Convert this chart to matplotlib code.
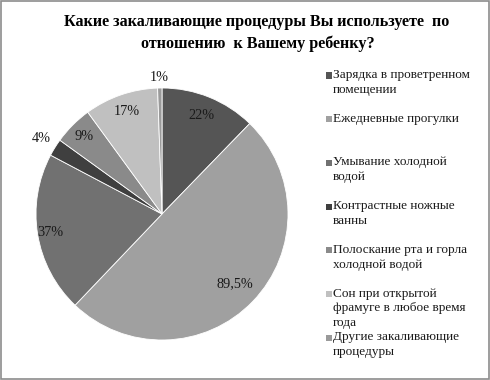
import matplotlib.pyplot as plt
from matplotlib.patches import Rectangle
import numpy as np

labels = ["Зарядка в проветренном\nпомещении",
          "Ежедневные прогулки",
          "Умывание холодной\nводой",
          "Контрастные ножные\nванны",
          "Полоскание рта и горла\nхолодной водой",
          "Сон при открытой\nфрамуге в любое время\nгода",
          "Другие закаливающие\nпроцедуры"]
values = [22, 89.5, 37, 4, 9, 17, 1]
pct_text = ["22%", "89,5%", "37%", "4%", "9%", "17%", "1%"]
colors = ["#555555", "#a0a0a0", "#717171", "#3f3f3f", "#8a8a8a", "#c0c0c0", "#9a9a9a"]

plt.rcParams['font.family'] = ['Liberation Serif', 'DejaVu Serif']

fig = plt.figure(figsize=(4.9, 3.8), dpi=100)
W, H = 490, 380

# pie axes: centre (162, 214), radius 126 px
cx, cy, r = 162, 214, 126
ax = fig.add_axes([(cx - r) / W, (H - cy - r) / H, 2 * r / W, 2 * r / H])
wedges, _ = ax.pie(values, colors=colors, startangle=90, counterclock=False,
                   wedgeprops=dict(edgecolor="white", linewidth=0.6))
ax.set_xlim(-1, 1)
ax.set_ylim(-1, 1)
ax.set_aspect("equal")

label_r = [0.84, 0.8, 0.9, 1.13, 0.87, 0.86, 1.08]
for w, t, lr in zip(wedges, pct_text, label_r):
    ang = np.deg2rad((w.theta1 + w.theta2) / 2)
    ax.text(lr * np.cos(ang), lr * np.sin(ang), t, ha="center", va="center",
            fontsize=10.3, color="#1a1a1a", clip_on=False)

fig.text(257 / W, 1 - 22 / H, "Какие закаливающие процедуры Вы используете  по",
         ha="center", va="center", fontsize=11.6, fontweight="bold")
fig.text(258 / W, 1 - 44 / H, "отношению  к Вашему ребенку?",
         ha="center", va="center", fontsize=11.6, fontweight="bold")

# legend
y0 = 75
step = 43.7
for i, (lab, c) in enumerate(zip(labels, colors)):
    y = y0 + i * step
    fig.patches.append(Rectangle(((326) / W, 1 - (y + 3.5) / H), 6 / W, 6 / H,
                                 transform=fig.transFigure, facecolor=c,
                                 edgecolor="none"))
    fig.text(333 / W, 1 - (y - 6) / H, lab, ha="left", va="top",
             fontsize=9.5, color="#1a1a1a", linespacing=1.3)

fig.patches.append(Rectangle((0.002, 0.003), 0.995, 0.994, transform=fig.transFigure,
                             facecolor="none", edgecolor="#8c8c8c", linewidth=1.2))

fig.savefig("out.png", dpi=100)
